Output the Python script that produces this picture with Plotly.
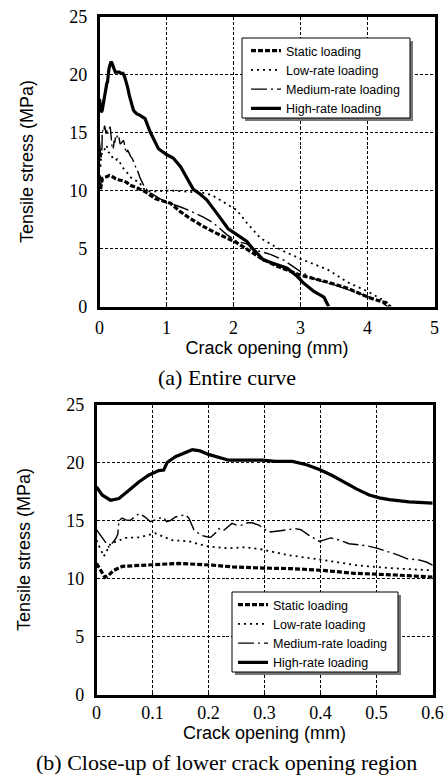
import plotly.graph_objects as go

# Tensile stress vs crack opening for four loading rates
names = ["Static loading", "Low-rate loading", "Medium-rate loading", "High-rate loading"]

static_x = [0, 0.008, 0.015, 0.022, 0.031, 0.046, 0.0875, 0.147, 0.207, 0.243, 0.296, 0.35,
            0.404, 0.46, 0.535, 0.6, 0.68, 0.83, 1.06, 1.2, 1.35, 1.55, 1.75, 2.05, 2.4,
            2.64, 3.0, 3.34, 3.69, 4.03, 4.28, 4.33]
static_y = [11.3, 10.6, 10.1, 10.3, 10.7, 11.05, 11.15, 11.3, 11.15, 11.0, 10.9, 10.85,
            10.7, 10.45, 10.3, 10.15, 9.9, 9.3, 8.9, 8.2, 7.6, 6.9, 6.3, 5.5, 4.2,
            3.5, 2.7, 2.2, 1.6, 0.75, 0.3, 0.0]

low_x = [0, 0.005, 0.013, 0.025, 0.04, 0.052, 0.076, 0.09, 0.105, 0.12, 0.135, 0.165, 0.2,
         0.236, 0.266, 0.296, 0.344, 0.404, 0.463, 0.523, 0.6, 0.64, 0.76, 1.06, 1.33, 1.55,
         1.68, 1.8, 2.05, 2.2, 2.4, 2.7, 3.0, 3.4, 3.7, 4.0, 4.28, 4.35]
low_y = [13.3, 12.7, 11.9, 13.0, 13.3, 13.5, 13.55, 13.7, 13.9, 13.6, 13.3, 13.2, 12.75,
         12.6, 12.7, 12.5, 12.0, 11.6, 11.15, 10.9, 10.7, 10.2, 9.9, 10.0, 9.9, 9.8,
         9.6, 9.2, 8.3, 7.2, 5.9, 4.9, 4.1, 3.2, 2.1, 1.3, 0.4, 0.0]

medium_x = [0, 0.008, 0.015, 0.022, 0.028, 0.034, 0.038, 0.040, 0.046, 0.052, 0.06, 0.068,
            0.076, 0.087, 0.096, 0.105, 0.112, 0.12, 0.125, 0.132, 0.141, 0.15, 0.159, 0.165,
            0.174, 0.182, 0.189, 0.197, 0.204, 0.212, 0.218, 0.226, 0.234, 0.242, 0.25, 0.26,
            0.27, 0.278, 0.29, 0.3, 0.308, 0.325, 0.344, 0.355, 0.365, 0.38, 0.398, 0.418,
            0.435, 0.451, 0.469, 0.485, 0.502, 0.523, 0.54, 0.555, 0.576, 0.59, 0.6,
            0.68, 0.76, 0.9, 1.0, 1.2, 1.35, 1.55, 1.7, 1.9, 2.05, 2.2, 2.3, 2.55, 2.75,
            3.0, 3.24, 3.54, 3.88, 4.18, 4.3]
medium_y = [14.2, 13.7, 13.2, 12.7, 13.1, 13.4, 13.8, 15.0, 15.2, 15.05, 15.0, 15.3,
            15.6, 15.3, 14.9, 15.05, 15.2, 15.25, 14.9, 15.0, 15.3, 15.4, 15.5, 15.2,
            14.2, 13.9, 13.7, 13.6, 13.55, 13.9, 14.3, 14.1, 14.4, 14.75, 14.6, 14.6,
            14.8, 14.8, 14.6, 14.3, 14.0, 14.1, 14.2, 14.3, 14.2, 13.7, 13.2, 13.5,
            13.3, 13.0, 12.9, 12.8, 12.6, 12.3, 12.0, 11.7, 11.6, 11.4, 11.15,
            10.2, 9.8, 9.3, 9.0, 8.6, 8.25, 7.7, 7.2, 6.2, 5.6, 5.4, 4.9, 4.5, 4.0,
            3.0, 2.3, 1.8, 1.1, 0.5, 0.0]

high_x = [0, 0.01, 0.025, 0.04, 0.058, 0.075, 0.093, 0.111, 0.12, 0.126, 0.141, 0.155,
          0.171, 0.185, 0.2, 0.236, 0.27, 0.296, 0.32, 0.35, 0.375, 0.398, 0.42, 0.445,
          0.465, 0.487, 0.505, 0.523, 0.558, 0.6, 0.68, 0.76, 0.88, 1.0, 1.1, 1.21, 1.33,
          1.4, 1.5, 1.6, 1.75, 1.92, 2.05, 2.2, 2.3, 2.45, 2.6, 2.8, 2.95, 3.05, 3.2,
          3.35, 3.42]
high_y = [17.9, 17.2, 16.75, 16.9, 17.6, 18.3, 18.9, 19.3, 19.35, 20.0, 20.5, 20.8,
          21.1, 21.0, 20.7, 20.2, 20.2, 20.2, 20.1, 20.1, 19.8, 19.4, 18.9, 18.2,
          17.7, 17.2, 16.95, 16.8, 16.6, 16.5, 16.2, 15.0, 13.6, 13.1, 12.8, 12.05, 10.8,
          10.1, 9.7, 9.2, 8.05, 6.7, 6.2, 5.6, 4.9, 4.0, 3.7, 3.3, 2.6, 2.0, 1.3,
          0.8, 0.0]

series = [
    (static_x, static_y, dict(color="black", width=3.2, dash="5px,2px")),
    (low_x, low_y, dict(color="black", width=1.8, dash="2px,4px")),
    (medium_x, medium_y, dict(color="black", width=1.4, dash="16px,4px,2px,4px")),
    (high_x, high_y, dict(color="black", width=3.2)),
]

fig = go.Figure()
for (xs, ys, ln), nm in zip(series, names):
    fig.add_trace(go.Scatter(x=xs, y=ys, mode="lines", name=nm, line=ln,
                             xaxis="x", yaxis="y", legend="legend"))
for (xs, ys, ln), nm in zip(series, names):
    fig.add_trace(go.Scatter(x=xs, y=ys, mode="lines", name=nm, line=ln,
                             xaxis="x2", yaxis="y2", legend="legend2"))

serif = "Liberation Serif"
sans = "Liberation Sans"

axis_common = dict(
    showline=True, mirror=True, linewidth=2.5, linecolor="black",
    showgrid=True, gridcolor="black", gridwidth=1.4, griddash="3px,2px",
    ticks="inside", ticklen=4, tickcolor="black", tickwidth=1,
    zeroline=False, automargin=False,
    tickfont=dict(family=serif, size=18, color="black"),
)
title_font = dict(family=sans, size=18, color="black")

W, H = 444, 775
def px_x(p):
    return p / W
def px_y(p):
    return 1 - p / H

legend_style = dict(xanchor="left", yanchor="top", bgcolor="rgba(0,0,0,0)",
                    borderwidth=0, font=dict(family=sans, size=12.5, color="black"),
                    tracegroupgap=0)

fig.update_layout(
    template="none",
    width=W, height=H, margin=dict(l=0, r=0, t=0, b=0, autoexpand=False),
    paper_bgcolor="white", plot_bgcolor="white",
    font=dict(family=sans, color="black"),
    xaxis=dict(axis_common, domain=[px_x(99.5), px_x(434.5)], range=[0, 5], dtick=1,
               anchor="y", ticklabelstandoff=3,
               title=dict(text="Crack opening (mm)", standoff=2, font=title_font)),
    yaxis=dict(axis_common, domain=[px_y(306.5), px_y(16.5)], range=[0, 25], dtick=5,
               anchor="x", ticklabelstandoff=6,
               title=dict(text="Tensile stress (MPa)", standoff=31, font=title_font)),
    xaxis2=dict(axis_common, domain=[px_x(96.5), px_x(432.5)], range=[0, 0.6], dtick=0.1,
                anchor="y2", ticklabelstandoff=0,
                title=dict(text="Crack opening (mm)", standoff=3, font=title_font)),
    yaxis2=dict(axis_common, domain=[px_y(694.5), px_y(404.5)], range=[0, 25], dtick=5,
                anchor="x2", ticklabelstandoff=6,
                title=dict(text="Tensile stress (MPa)", standoff=31, font=title_font)),
    legend=dict(legend_style, x=px_x(246), y=px_y(36)),
    legend2=dict(legend_style, x=px_x(233), y=px_y(590)),
    showlegend=True,
)

# legend frames with a drop shadow
for (x0, y0, x1, y1) in [(242, 38, 410, 118), (232, 592, 398, 672)]:
    fig.add_shape(type="rect", xref="paper", yref="paper", layer="above",
                  x0=px_x(x0 + 3), x1=px_x(x1 + 3), y0=px_y(y1 + 3), y1=px_y(y0 + 3),
                  fillcolor="#777777", line=dict(width=0))
    fig.add_shape(type="rect", xref="paper", yref="paper", layer="above",
                  x0=px_x(x0), x1=px_x(x1), y0=px_y(y1), y1=px_y(y0),
                  fillcolor="white", line=dict(color="black", width=1))

# panel captions
fig.add_annotation(text="(a) Entire curve", x=px_x(227), y=px_y(377), xref="paper",
                   yref="paper", showarrow=False, xanchor="center", yanchor="middle",
                   font=dict(family=serif, size=22, color="black"))
fig.add_annotation(text="(b) Close-up of lower crack opening region", x=px_x(226),
                   y=px_y(762), xref="paper", yref="paper", showarrow=False,
                   xanchor="center", yanchor="middle",
                   font=dict(family=serif, size=22, color="black"))

fig.write_html("out.html")
